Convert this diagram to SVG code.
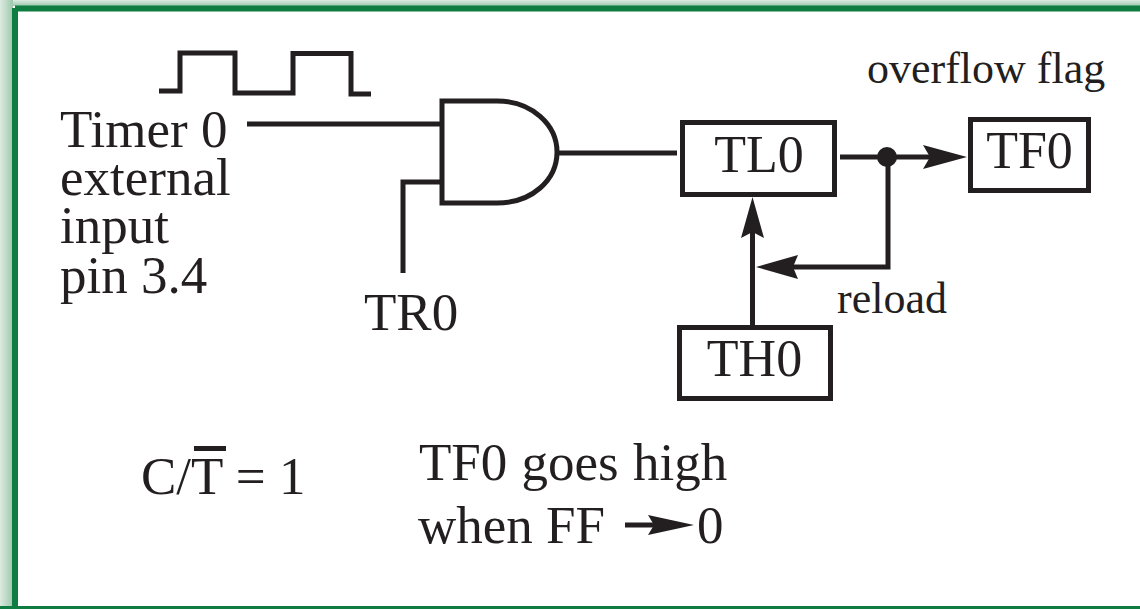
<svg xmlns="http://www.w3.org/2000/svg" width="1140" height="609" viewBox="0 0 1140 609">
<defs>
<linearGradient id="gt" x1="0" y1="0" x2="0" y2="1"><stop offset="0" stop-color="#dcebe0"/><stop offset="1" stop-color="#9cc8ad"/></linearGradient>
<linearGradient id="gl" x1="0" y1="0" x2="1" y2="0"><stop offset="0" stop-color="#dcebe0"/><stop offset="1" stop-color="#9cc8ad"/></linearGradient>
</defs>
<style>
text{font-family:"Liberation Serif","Times New Roman",serif;fill:#231f20}
.l{font-size:52px}
.m{font-size:53px}
.s{font-size:44px}
.w{fill:none;stroke:#231f20;stroke-width:5}
.b{fill:#fff;stroke:#231f20;stroke-width:5}
.a{fill:#231f20}
</style>
<rect width="1140" height="609" fill="#fff"/>
<rect width="1140" height="6" fill="url(#gt)"/>
<rect width="13" height="609" fill="url(#gl)"/>
<path d="M15 8.500H1140M15 8V609" fill="none" stroke="#0f7d41" stroke-width="6"/>
<rect x="0" y="606" width="1140" height="3" fill="#0f7d41"/>
<g id="connectors">
<path class="w" d="M159 91H180V53H235V93H293V53.500H351V94H371"/>
<path class="w" d="M247 124H443"/>
<path class="w" d="M403 273V182H443"/>
<path class="w" d="M557 153H677"/>
<path class="w" d="M840 157H930"/>
<path class="w" d="M888 157V267H793"/>
<path class="w" d="M752.500 326V232"/>
<polygon class="a" points="967,157 923,145 930,157 923,169"/>
<polygon class="a" points="756,267 798,255 793,267 798,279"/>
<polygon class="a" points="752.500,197 741,238 752.500,232 764,238"/>
<circle class="a" cx="887" cy="157" r="10"/>
</g>
<g id="and-gate"><path class="b" d="M442 101H497C532 101 557 125 557 152C557 180 532 203 497 203H442Z"/></g>
<g id="tl0"><rect class="b" x="682.500" y="122.500" width="152" height="72"/><text class="l" x="759" y="172" text-anchor="middle">TL0</text></g>
<g id="tf0"><rect class="b" x="970.500" y="119.500" width="118" height="71"/><text class="l" x="1029.500" y="168" text-anchor="middle">TF0</text></g>
<g id="th0"><rect class="b" x="679.500" y="327.500" width="151" height="71"/><text class="l" x="754.500" y="376" text-anchor="middle">TH0</text></g>
<g id="labels">
<text class="m" x="60" y="147">Timer 0</text>
<text class="m" x="60" y="195">external</text>
<text class="m" x="60" y="243">input</text>
<text class="m" x="60" y="293">pin 3.4</text>
<text class="m" x="364" y="330">TR0</text>
<text class="s" x="867" y="83">overflow flag</text>
<text class="s" x="837" y="313">reload</text>
<text class="m" x="141" y="494">C/T = 1</text>
<rect class="a" x="194" y="446" width="32" height="5"/>
<text class="m" x="419" y="480" word-spacing="1">TF0 goes high</text>
<text class="m" x="418" y="543">when FF</text>
<path class="w" d="M625 525H655"/>
<polygon class="a" points="694,525 648,515 654,525 648,535"/>
<text class="m" x="697" y="543">0</text>
</g>
</svg>
